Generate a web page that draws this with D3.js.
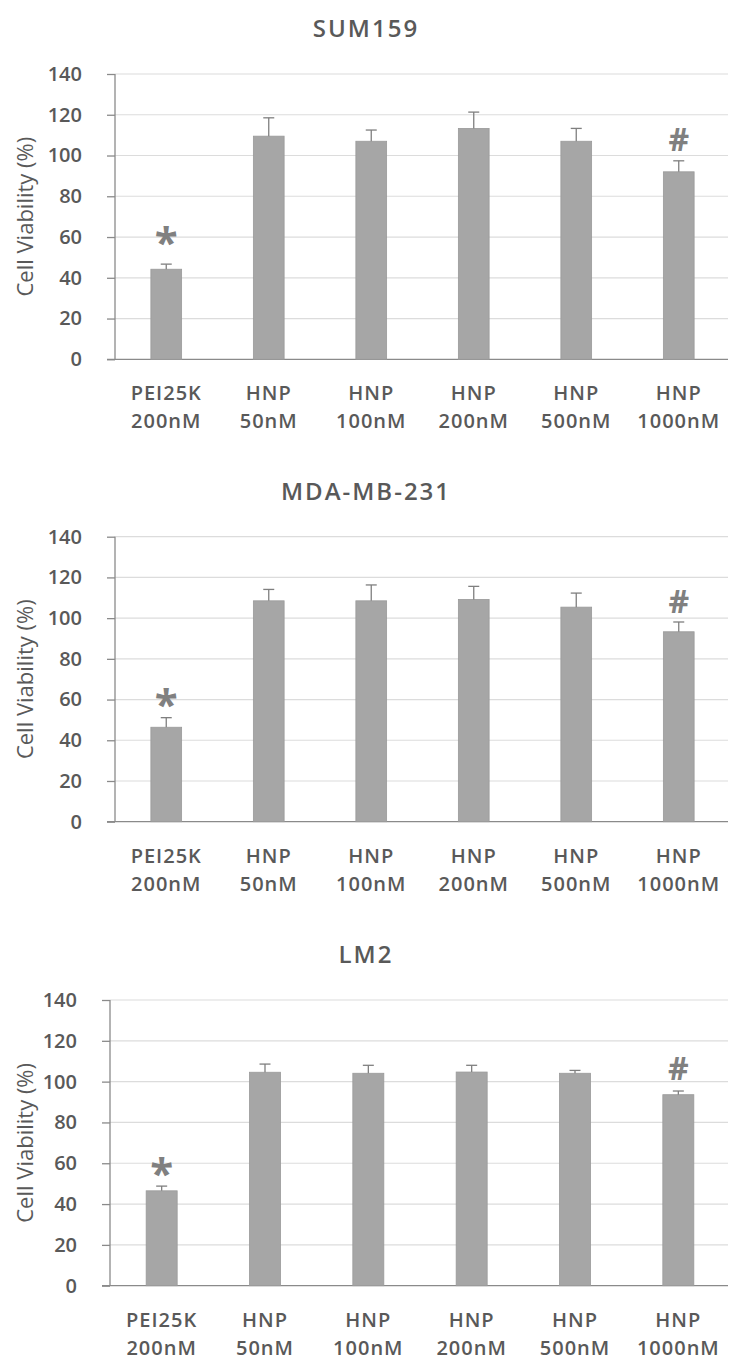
<!DOCTYPE html>
<html>
<head>
<meta charset="utf-8">
<script src="https://cdn.jsdelivr.net/npm/d3@7"></script>
<style>
  html, body { margin: 0; padding: 0; background: #fff; }
  svg { display: block; }
  text { font-family: "Open Sans", "Liberation Sans", sans-serif; }
</style>
</head>
<body>
<svg id="chart" width="730" height="1361"></svg>
<script>
// ---------- data ----------
const categoryLine1 = ["PEI25K", "HNP", "HNP", "HNP", "HNP", "HNP"];
const categoryLine2 = ["200nM", "50nM", "100nM", "200nM", "500nM", "1000nM"];
const yTicks = [0, 20, 40, 60, 80, 100, 120, 140];
const panelTitles = ["SUM159", "MDA-MB-231", "LM2"];
const yAxisTitle = "Cell Viability (%)";

const sum159Values = [44.2, 109.5, 107.0, 113.3, 107.0, 92.0];
const sum159Errors = [2.5, 9.0, 5.5, 8.0, 6.3, 5.4];
const mdaValues = [46.4, 108.5, 108.5, 109.2, 105.4, 93.3];
const mdaErrors = [4.7, 5.6, 7.8, 6.4, 6.9, 4.8];
const lm2Values = [46.5, 104.6, 104.1, 104.7, 104.1, 93.6];
const lm2Errors = [2.3, 4.0, 3.9, 3.3, 1.4, 1.8];

// significance marks: [category index, symbol, value position]
const sum159Marks = [[0, "*", 59.5], [5, "#", 108]];
const mdaMarks = [[0, "*", 60], [5, "#", 108]];
const lm2Marks = [[0, "*", 57.5], [5, "#", 106.5]];

// ---------- layout ----------
const panels = [
  { title: panelTitles[0], values: sum159Values, errors: sum159Errors, marks: sum159Marks, top: 74, bottom: 359.3, left: 115, right: 730 },
  { title: panelTitles[1], values: mdaValues, errors: mdaErrors, marks: mdaMarks, top: 536.7, bottom: 821.7, left: 115, right: 730 },
  { title: panelTitles[2], values: lm2Values, errors: lm2Errors, marks: lm2Marks, top: 1000, bottom: 1285.7, left: 110, right: 730 }
];

const textColor = "#595959";
const barColor = "#a6a6a6";
const axisColor = "#8a8a8a";
const gridColor = "#dcdcdc";
const errColor = "#7f7f7f";

const svg = d3.select("#chart");
const idx = d3.range(categoryLine1.length);

panels.forEach(p => {
  const g = svg.append("g");
  const x = d3.scaleBand().domain(idx).range([p.left, p.right]).paddingInner(0.7).paddingOuter(0.35);
  const y = d3.scaleLinear().domain([0, 140]).range([p.bottom, p.top]);

  // gridlines
  g.append("g").selectAll("line").data(yTicks.filter(t => t > 0)).join("line")
    .attr("x1", p.left).attr("x2", p.right - 2)
    .attr("y1", d => y(d)).attr("y2", d => y(d))
    .attr("stroke", gridColor).attr("stroke-width", 1.2);

  // y axis
  const yAxis = d3.axisLeft(y).tickValues(yTicks).tickSize(8).tickPadding(25).tickFormat(d3.format("d"));
  const ya = g.append("g").attr("transform", `translate(${p.left},0)`).call(yAxis);
  ya.select(".domain").attr("stroke", axisColor).attr("stroke-width", 1.3).attr("d", `M-0,${p.top}V${p.bottom}`);
  ya.selectAll(".tick line").attr("stroke", axisColor).attr("stroke-width", 1.3);
  ya.selectAll(".tick text").attr("fill", textColor)
    .style("font-size", "20px").style("font-weight", 600).style("font-family", "'Open Sans'");

  // x axis line
  g.append("line").attr("x1", p.left - 8).attr("x2", p.right - 2)
    .attr("y1", p.bottom).attr("y2", p.bottom)
    .attr("stroke", axisColor).attr("stroke-width", 1.3);

  // bars
  g.append("g").selectAll("rect").data(idx).join("rect")
    .attr("x", i => x(i)).attr("width", x.bandwidth())
    .attr("y", i => y(p.values[i])).attr("height", i => y(0) - y(p.values[i]))
    .attr("fill", barColor).attr("stroke", "#9a9a9a").attr("stroke-width", 0.8);

  // error bars
  const eb = g.append("g").attr("stroke", errColor).attr("stroke-width", 1.3);
  eb.selectAll("line.v").data(idx).join("line").attr("class", "v")
    .attr("x1", i => x(i) + x.bandwidth() / 2).attr("x2", i => x(i) + x.bandwidth() / 2)
    .attr("y1", i => y(p.values[i])).attr("y2", i => y(p.values[i] + p.errors[i]));
  eb.selectAll("line.c").data(idx).join("line").attr("class", "c")
    .attr("x1", i => x(i) + x.bandwidth() / 2 - 5.5).attr("x2", i => x(i) + x.bandwidth() / 2 + 5.5)
    .attr("y1", i => y(p.values[i] + p.errors[i])).attr("y2", i => y(p.values[i] + p.errors[i]));

  // significance marks
  g.append("g").selectAll("text").data(p.marks).join("text")
    .attr("x", d => x(d[0]) + x.bandwidth() / 2)
    .attr("y", d => y(d[2]))
    .attr("text-anchor", "middle")
    .attr("dy", d => d[1] === "*" ? "0.46em" : "0.36em")
    .attr("fill", "#808080")
    .style("font-size", d => d[1] === "*" ? "42px" : "32px")
    .style("font-weight", 700)
    .text(d => d[1]);

  // x labels
  const xl = g.append("g").selectAll("text").data(idx).join("text")
    .attr("x", i => x(i) + x.bandwidth() / 2)
    .attr("text-anchor", "middle")
    .attr("fill", textColor)
    .style("font-size", "20px").style("font-weight", 600).style("letter-spacing", "1px");
  xl.append("tspan").attr("x", i => x(i) + x.bandwidth() / 2).attr("y", p.bottom + 41).text(i => categoryLine1[i]);
  xl.append("tspan").attr("x", i => x(i) + x.bandwidth() / 2).attr("y", p.bottom + 69).text(i => categoryLine2[i]);

  // title
  g.append("text").attr("x", 366).attr("y", p.top - 37)
    .attr("text-anchor", "middle").attr("fill", textColor)
    .style("font-size", "24px").style("font-weight", 600).style("letter-spacing", "2px")
    .text(p.title);

  // y axis title
  g.append("text")
    .attr("transform", `translate(33,${(p.top + p.bottom) / 2}) rotate(-90)`)
    .attr("text-anchor", "middle").attr("fill", textColor)
    .style("font-size", "22px")
    .text(yAxisTitle);
});
</script>
</body>
</html>
